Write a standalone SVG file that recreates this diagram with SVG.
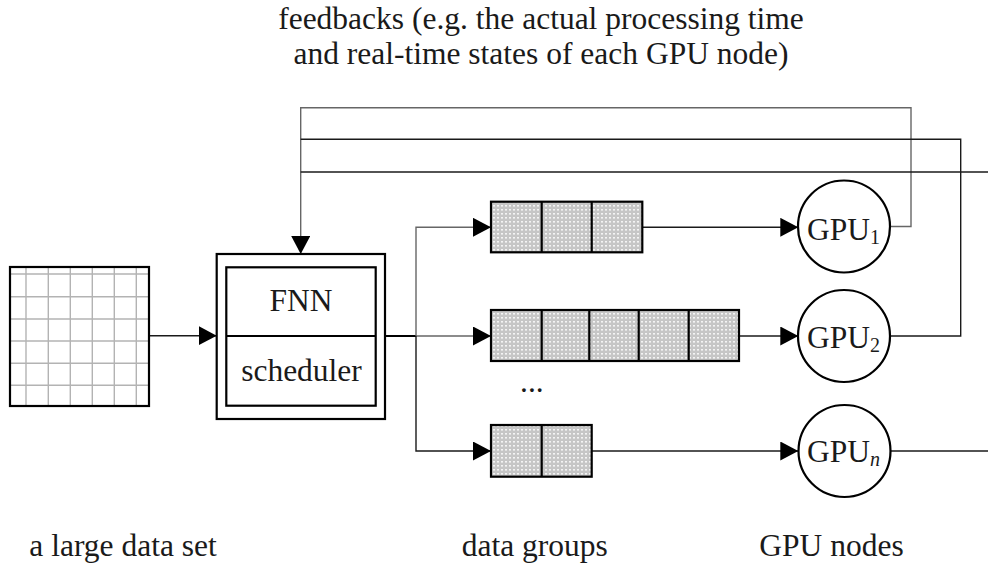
<svg xmlns="http://www.w3.org/2000/svg" width="988" height="567" viewBox="0 0 988 567">
<defs>
<style>
.t{font-family:"Liberation Serif","Times New Roman",serif;font-size:31.5px;fill:#1a1a1a}
.sub{font-size:20px}
.box{fill:none;stroke:#000;stroke-width:2.2}
.q{fill:url(#dots);stroke:#000;stroke-width:2.2}
.div{stroke:#000;stroke-width:2.2}
.grid{stroke:#b3b3b3;stroke-width:1.4}
.c{fill:none;stroke:#1a1a1a;stroke-width:1.4}
.g{fill:none;stroke:#666;stroke-width:1.4}
.gpu{fill:#fff;stroke:#000;stroke-width:2.2}
</style>
<pattern id="dots" width="4" height="4" patternUnits="userSpaceOnUse">
<rect width="4" height="4" fill="#c6c6c6"/>
<rect x="1" y="1" width="2" height="1.6" fill="#f4f4f4"/>
</pattern>
<marker id="ah" markerUnits="userSpaceOnUse" markerWidth="19" markerHeight="20" refX="18" refY="9.5" orient="auto">
<path d="M0,0 L18,9.5 L0,19 Z" fill="#000"/>
</marker>
</defs>

<g id="title">
<text class="t" x="541" y="28.5" text-anchor="middle">feedbacks (e.g. the actual processing time</text>
<text class="t" x="541" y="64" text-anchor="middle">and real-time states of each GPU node)</text>
</g>

<g id="connectors">
<line class="c" x1="149" y1="335.7" x2="216.7" y2="335.7" marker-end="url(#ah)"/>
<line x1="385" y1="336" x2="416" y2="336" stroke="#000" stroke-width="2"/>
<polyline class="g" points="416,336 416,227.3 491,227.3" marker-end="url(#ah)"/>
<line class="g" x1="416" y1="336" x2="491" y2="336" marker-end="url(#ah)"/>
<polyline class="c" points="416,336 416,451 491,451" marker-end="url(#ah)"/>
<line class="c" x1="642.3" y1="227.3" x2="798.3" y2="227.3" marker-end="url(#ah)"/>
<line class="c" x1="739" y1="336" x2="798.3" y2="336" marker-end="url(#ah)"/>
<line class="c" x1="591.7" y1="451" x2="798.3" y2="451" marker-end="url(#ah)"/>
<polyline class="g" points="890,226.5 911,226.5 911,107.7 300.7,107.7 300.7,254" marker-end="url(#ah)"/>
<polyline class="c" points="890,336 960.7,336 960.7,139.3 300.7,139.3"/>
<polyline class="c" points="988,172 300.7,172"/>
<line class="c" x1="890.7" y1="451" x2="988" y2="451"/>
</g>

<g id="dataset">
<rect x="10" y="267" width="139" height="139" fill="#fff"/>
<g class="grid">
<line x1="26" y1="267" x2="26" y2="406"/>
<line x1="48.3" y1="267" x2="48.3" y2="406"/>
<line x1="70.3" y1="267" x2="70.3" y2="406"/>
<line x1="92.3" y1="267" x2="92.3" y2="406"/>
<line x1="114.3" y1="267" x2="114.3" y2="406"/>
<line x1="136.3" y1="267" x2="136.3" y2="406"/>
<line x1="10" y1="274" x2="149" y2="274"/>
<line x1="10" y1="296.7" x2="149" y2="296.7"/>
<line x1="10" y1="319" x2="149" y2="319"/>
<line x1="10" y1="341" x2="149" y2="341"/>
<line x1="10" y1="363.3" x2="149" y2="363.3"/>
<line x1="10" y1="385.3" x2="149" y2="385.3"/>
</g>
<rect class="box" x="10" y="267" width="139" height="139"/>
</g>

<g id="scheduler">
<rect class="box" x="216.7" y="254" width="168.3" height="165"/>
<rect class="box" x="226.3" y="267.3" width="149.4" height="138.4"/>
<line class="div" x1="226.3" y1="336" x2="375.7" y2="336"/>
<text class="t" x="301" y="310.7" text-anchor="middle">FNN</text>
<text class="t" x="301.5" y="380.7" text-anchor="middle">scheduler</text>
</g>

<g id="queue1">
<rect class="q" x="491" y="201.7" width="151.3" height="50.6"/>
<line class="div" x1="541.7" y1="201.7" x2="541.7" y2="252.3"/>
<line class="div" x1="591.7" y1="201.7" x2="591.7" y2="252.3"/>
</g>

<g id="queue2">
<rect class="q" x="491" y="310" width="248" height="51"/>
<line class="div" x1="541.7" y1="310" x2="541.7" y2="361"/>
<line class="div" x1="589.3" y1="310" x2="589.3" y2="361"/>
<line class="div" x1="638.7" y1="310" x2="638.7" y2="361"/>
<line class="div" x1="688.7" y1="310" x2="688.7" y2="361"/>
</g>

<g id="ellipsis">
<text class="t" x="520" y="392">...</text>
</g>

<g id="queuen">
<rect class="q" x="491" y="425" width="100.7" height="51.7"/>
<line class="div" x1="541.7" y1="425" x2="541.7" y2="476.7"/>
</g>

<g id="gpu1">
<circle class="gpu" cx="844" cy="226.5" r="46"/>
<text class="t" x="807" y="240">GPU<tspan class="sub" dy="4">1</tspan></text>
</g>
<g id="gpu2">
<circle class="gpu" cx="844" cy="336" r="46"/>
<text class="t" x="807" y="347.5">GPU<tspan class="sub" dy="4">2</tspan></text>
</g>
<g id="gpun">
<circle class="gpu" cx="844.5" cy="451" r="46"/>
<text class="t" x="807" y="462">GPU<tspan class="sub" dy="4" font-style="italic">n</tspan></text>
</g>

<g id="labels">
<text class="t" x="29.3" y="556">a large data set</text>
<text class="t" x="461.7" y="555.5">data groups</text>
<text class="t" x="759.3" y="556">GPU nodes</text>
</g>
</svg>
